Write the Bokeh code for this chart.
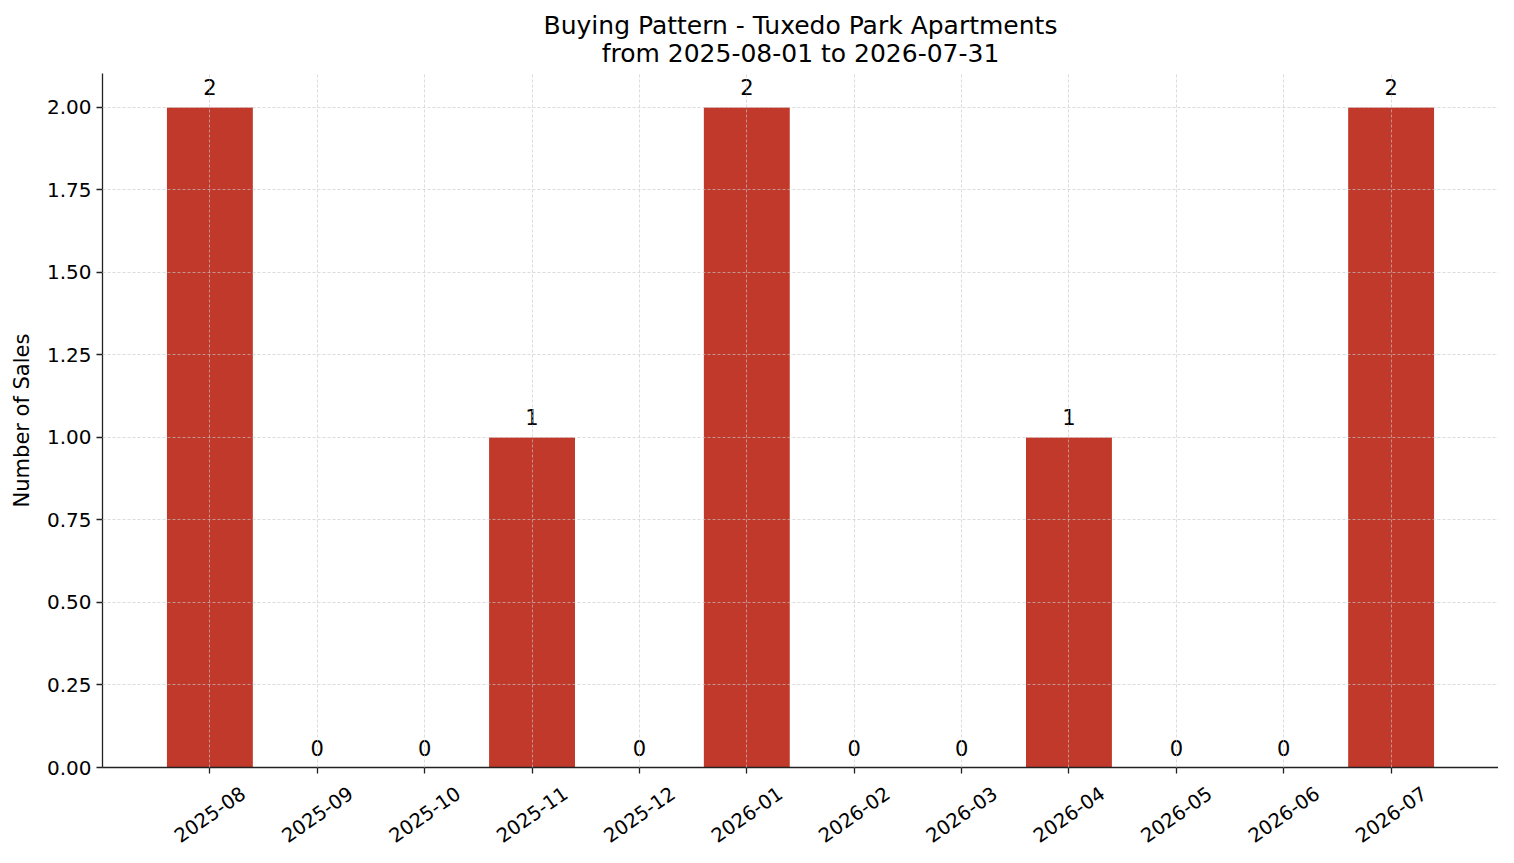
from bokeh.plotting import figure
from bokeh.layouts import column
from bokeh.models import (ColumnDataSource, FixedTicker, PrintfTickFormatter, FactorRange,
                          Range1d, CustomJSTickFormatter)
from bokeh.embed import file_html
from bokeh.resources import INLINE
from bokeh.core.properties import value
import math

months = ["2025-08", "2025-09", "2025-10", "2025-11", "2025-12", "2026-01",
          "2026-02", "2026-03", "2026-04", "2026-05", "2026-06", "2026-07"]
sales = [2, 0, 0, 1, 0, 2, 0, 0, 1, 0, 0, 2]
y_ticks = [0.0, 0.25, 0.5, 0.75, 1.0, 1.25, 1.5, 1.75, 2.0]
title_lines = ["Buying Pattern - Tuxedo Park Apartments", "from 2025-08-01 to 2026-07-31"]

FONT = "DejaVu Sans"
W = 1498
LEFT = 102
src = ColumnDataSource(dict(m=months, v=sales, lab=[str(s) for s in sales],
                            ly=[0.493] * len(months)))

xr = FactorRange(factors=months, range_padding=0.5, range_padding_units="absolute")

# --- title strip (two centred lines) ---
p0 = figure(width=W, height=73, output_backend="svg", toolbar_location=None,
            x_range=Range1d(0, 1), y_range=Range1d(73, 0),
            x_axis_location=None, y_axis_location=None,
            min_border_left=LEFT, min_border_right=0, min_border_top=0, min_border_bottom=0)
p0.title.visible = False
p0.outline_line_color = None
p0.xgrid.visible = False
p0.ygrid.visible = False
p0.text(x=[0.5, 0.5], y=[25, 53], text=title_lines, text_align="center", text_baseline="middle",
        text_font=value(FONT), text_font_size="25px", text_color="black")

# --- main chart ---
p1 = figure(width=W, height=707, output_backend="svg", toolbar_location=None,
            x_range=xr, y_range=Range1d(0, 2.103),
            min_border_left=LEFT, min_border_right=0, min_border_top=0, min_border_bottom=13)
p1.title.visible = False
p1.outline_line_color = None

p1.vbar(x="m", top="v", width=0.8, source=src, fill_color="#c0392b", line_color=None)
p1.text(x="m", y="v", text="lab", source=src, text_align="center", text_baseline="bottom",
        y_offset=-12, text_font=value(FONT), text_font_size="21px", text_color="black")

for ax in (p1.xaxis, p1.yaxis):
    ax.axis_line_color = "#222222"
    ax.axis_line_width = 1.3
    ax.major_tick_line_color = "#222222"
    ax.major_tick_line_width = 1.3
    ax.major_tick_out = 6
    ax.major_tick_in = 0
    ax.minor_tick_line_color = None
    ax.major_label_text_font = FONT
    ax.major_label_text_font_size = "20px"
    ax.major_label_text_color = "black"

p1.xaxis.formatter = CustomJSTickFormatter(code="return ''")
p1.xaxis.major_label_standoff = 0
p1.xaxis.major_label_text_font_size = "1px"

p1.yaxis.ticker = FixedTicker(ticks=y_ticks)
p1.yaxis.formatter = PrintfTickFormatter(format="%.2f")
p1.yaxis.axis_label = "Number of Sales"
p1.yaxis.axis_label_text_font = FONT
p1.yaxis.axis_label_text_font_size = "21px"
p1.yaxis.axis_label_text_font_style = "normal"
p1.yaxis.axis_label_text_color = "black"
p1.yaxis.axis_label_standoff = 10

for g in (p1.xgrid, p1.ygrid):
    g.grid_line_color = "#c8c8c8"
    g.grid_line_alpha = 0.8
    g.grid_line_dash = "3 2"
    g.grid_line_width = 0.8
    g.level = "annotation"

# --- strip below holding the rotated month labels, centred under each tick ---
p2 = figure(width=W, height=67, output_backend="svg", toolbar_location=None,
            x_range=xr, y_range=Range1d(0, 1), x_axis_location=None, y_axis_location=None,
            min_border_left=LEFT, min_border_right=0, min_border_top=0, min_border_bottom=0)
p2.title.visible = False
p2.outline_line_color = None
p2.xgrid.visible = False
p2.ygrid.visible = False
p2.text(x="m", y="ly", text="m", source=src, angle=math.radians(35),
        text_align="center", text_baseline="middle",
        text_font=value(FONT), text_font_size="19.5px", text_color="black")

layout = column(p0, p1, p2, spacing=0)
open("out.html", "w").write(file_html(layout, INLINE))
